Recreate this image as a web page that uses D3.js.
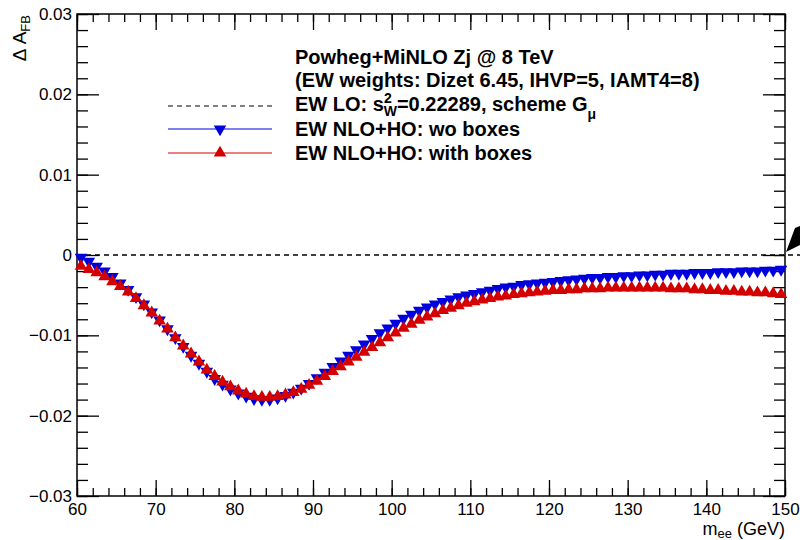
<!DOCTYPE html>
<html>
<head>
<meta charset="utf-8">
<script src="https://cdn.jsdelivr.net/npm/d3@7"></script>
<style>
  body { margin: 0; background: #fff; }
  text { font-family: "Liberation Sans", Arial, sans-serif; }
</style>
</head>
<body>
<div id="chart-area"></div>
<script>
// bin centres (1 GeV bins from 60 to 150)
const massBins = [60.5,61.5,62.5,63.5,64.5,65.5,66.5,67.5,68.5,69.5,
  70.5,71.5,72.5,73.5,74.5,75.5,76.5,77.5,78.5,79.5,
  80.5,81.5,82.5,83.5,84.5,85.5,86.5,87.5,88.5,89.5,
  90.5,91.5,92.5,93.5,94.5,95.5,96.5,97.5,98.5,99.5,
  100.5,101.5,102.5,103.5,104.5,105.5,106.5,107.5,108.5,109.5,
  110.5,111.5,112.5,113.5,114.5,115.5,116.5,117.5,118.5,119.5,
  120.5,121.5,122.5,123.5,124.5,125.5,126.5,127.5,128.5,129.5,
  130.5,131.5,132.5,133.5,134.5,135.5,136.5,137.5,138.5,139.5,
  140.5,141.5,142.5,143.5,144.5,145.5,146.5,147.5,148.5,149.5];

// EW NLO+HO: wo boxes
const woBoxes = [-0.0003,-0.0008,-0.0014,-0.0020,-0.0027,-0.0035,-0.0043,-0.0052,-0.0061,-0.0071,
  -0.0081,-0.0092,-0.0103,-0.0114,-0.0125,-0.0135,-0.0145,-0.0154,-0.0161,-0.0167,
  -0.0172,-0.0176,-0.0179,-0.0180,-0.0180,-0.0178,-0.0175,-0.0171,-0.0166,-0.0160,
  -0.0153,-0.0146,-0.0139,-0.0132,-0.0125,-0.0118,-0.0111,-0.0104,-0.0097,-0.0091,
  -0.0085,-0.0079,-0.0074,-0.0069,-0.0065,-0.0061,-0.0058,-0.0055,-0.0052,-0.0050,
  -0.0048,-0.0046,-0.0044,-0.0042,-0.0040,-0.0039,-0.0037,-0.0036,-0.0035,-0.0034,
  -0.0033,-0.0032,-0.0031,-0.0030,-0.0029,-0.0028,-0.0028,-0.0027,-0.0027,-0.0026,
  -0.0026,-0.0025,-0.0025,-0.0024,-0.0024,-0.0023,-0.0023,-0.0023,-0.0022,-0.0022,
  -0.0022,-0.0021,-0.0021,-0.0021,-0.0020,-0.0020,-0.0020,-0.0019,-0.0019,-0.0018];

// EW NLO+HO: with boxes
const withBoxes = [-0.0014,-0.0018,-0.0022,-0.0027,-0.0033,-0.0039,-0.0046,-0.0054,-0.0063,-0.0072,
  -0.0082,-0.0092,-0.0103,-0.0113,-0.0123,-0.0133,-0.0143,-0.0151,-0.0158,-0.0164,
  -0.0169,-0.0173,-0.0176,-0.0177,-0.0177,-0.0176,-0.0174,-0.0171,-0.0167,-0.0162,
  -0.0157,-0.0151,-0.0145,-0.0139,-0.0133,-0.0127,-0.0121,-0.0115,-0.0109,-0.0103,
  -0.0097,-0.0091,-0.0086,-0.0081,-0.0077,-0.0073,-0.0069,-0.0066,-0.0063,-0.0060,
  -0.0058,-0.0056,-0.0054,-0.0052,-0.0051,-0.0049,-0.0048,-0.0047,-0.0046,-0.0045,
  -0.0044,-0.0044,-0.0043,-0.0043,-0.0042,-0.0042,-0.0042,-0.0041,-0.0041,-0.0041,
  -0.0041,-0.0041,-0.0041,-0.0041,-0.0041,-0.0042,-0.0042,-0.0042,-0.0043,-0.0043,
  -0.0044,-0.0044,-0.0045,-0.0045,-0.0046,-0.0046,-0.0047,-0.0047,-0.0048,-0.0049];

// EW LO reference line
const loValue = 0;

const xTicks = [60, 70, 80, 90, 100, 110, 120, 130, 140, 150];
const yTicks = [-0.03, -0.02, -0.01, 0, 0.01, 0.02, 0.03];
const yTickLabels = ["\u22120.03", "\u22120.02", "\u22120.01", "0", "0.01", "0.02", "0.03"];

const blue = "#0000dd", red = "#d40000";

//set margins
let margin = {left: 77, top: 14, right: 15, bottom: 44};
let width = 800 - margin.left - margin.right,
    height = 540 - margin.top - margin.bottom;

let svg = d3.select("#chart-area")
  .append("svg")
  .attr("width", 800)
  .attr("height", 540);

let group = svg.append("g")
  .attr("transform", "translate(" + margin.left + ", " + margin.top + ")");

// scales
let x = d3.scaleLinear().domain([60, 150]).range([0, width]);
let y = d3.scaleLinear().domain([-0.03, 0.03]).range([height, 0]);

let xMinor = d3.range(60, 150.1, 2);
let yMinor = d3.range(-0.03, 0.0301, 0.002);

// axes with inward ticks on all four sides
function styleAxis(g) {
  g.select(".domain").remove();
  g.selectAll("line").attr("stroke", "#000").attr("stroke-width", 1.3);
}
group.append("g").attr("transform", "translate(0," + height + ")")
  .call(d3.axisBottom(x).tickValues(xMinor).tickSize(-8).tickFormat("")).call(styleAxis);
group.append("g").attr("transform", "translate(0," + height + ")")
  .call(d3.axisBottom(x).tickValues(xTicks).tickSize(-16).tickPadding(19)).call(styleAxis)
  .selectAll("text").attr("font-size", "17px").attr("fill", "#000").attr("dy", "0");
group.append("g")
  .call(d3.axisTop(x).tickValues(xMinor).tickSize(-8).tickFormat("")).call(styleAxis);
group.append("g")
  .call(d3.axisTop(x).tickValues(xTicks).tickSize(-16).tickFormat("")).call(styleAxis);
group.append("g")
  .call(d3.axisLeft(y).tickValues(yMinor).tickSize(-11).tickFormat("")).call(styleAxis);
group.append("g")
  .call(d3.axisLeft(y).tickValues(yTicks).tickSize(-22).tickPadding(5)
    .tickFormat((d, i) => yTickLabels[i])).call(styleAxis)
  .selectAll("text").attr("font-size", "17px").attr("fill", "#000");
group.append("g").attr("transform", "translate(" + width + ",0)")
  .call(d3.axisRight(y).tickValues(yMinor).tickSize(-11).tickFormat("")).call(styleAxis);
group.append("g").attr("transform", "translate(" + width + ",0)")
  .call(d3.axisRight(y).tickValues(yTicks).tickSize(-22).tickFormat("")).call(styleAxis);

// frame
group.append("rect")
  .attr("width", width).attr("height", height)
  .attr("fill", "none").attr("stroke", "#000").attr("stroke-width", 1.5);

// x label
let xl = group.append("text")
  .attr("x", width).attr("y", height + 39)
  .attr("text-anchor", "end").attr("font-size", "18px");
xl.append("tspan").text("m");
xl.append("tspan").attr("font-size", "13px").attr("dy", 3).text("ee");
xl.append("tspan").attr("dy", -3).text(" (GeV)");

// y label
let yl = svg.append("text")
  .attr("transform", "translate(26," + (margin.top + 1) + ") rotate(-90)")
  .attr("text-anchor", "end").attr("font-size", "19px");
yl.append("tspan").text("\u0394 A");
yl.append("tspan").attr("font-size", "13px").attr("dy", 4).text("FB");

// EW LO dashed line
group.append("line")
  .attr("x1", 0).attr("x2", width + 15)
  .attr("y1", y(loValue)).attr("y2", y(loValue))
  .attr("stroke", "#000").attr("stroke-width", 1.3).attr("stroke-dasharray", "5,4");

// data markers
let down = d3.symbol().type(d3.symbolTriangle).size(68);
group.selectAll(".wo").data(massBins).enter().append("path")
  .attr("d", down)
  .attr("transform", (d, i) => "translate(" + x(d) + "," + y(woBoxes[i]) + ") rotate(180)")
  .attr("fill", blue);
group.selectAll(".with").data(massBins).enter().append("path")
  .attr("d", down)
  .attr("transform", (d, i) => "translate(" + x(d) + "," + y(withBoxes[i]) + ")")
  .attr("fill", red);

// arrow piece at right edge
svg.append("path")
  .attr("d", "M786,252 L795,228 L800,226 L800,245 Z")
  .attr("fill", "#000");

// legend
let lx1 = 168, lx2 = 272, tx = 295;
let leg = svg.append("g").attr("font-weight", "bold").attr("font-size", "20px");
leg.append("text").attr("x", tx).attr("y", 64).text("Powheg+MiNLO Zj @ 8 TeV");
leg.append("text").attr("x", tx).attr("y", 87).text("(EW weights: Dizet 6.45, IHVP=5, IAMT4=8)");
let lo = leg.append("text").attr("x", tx).attr("y", 111);
lo.append("tspan").text("EW LO: s");
lo.append("tspan").attr("font-size", "14px").attr("dy", -8).text("2");
lo.append("tspan").attr("font-size", "14px").attr("dx", -8).attr("dy", 13).text("W");
lo.append("tspan").attr("dy", -5).text("=0.22289, scheme G");
lo.append("tspan").attr("font-size", "14px").attr("dy", 8).text("\u03bc");
leg.append("text").attr("x", tx).attr("y", 136).text("EW NLO+HO: wo boxes");
leg.append("text").attr("x", tx).attr("y", 160).text("EW NLO+HO: with boxes");

svg.append("line").attr("x1", lx1).attr("x2", lx2).attr("y1", 106).attr("y2", 106)
  .attr("stroke", "#000").attr("stroke-width", 1.2).attr("stroke-dasharray", "5,4");
svg.append("line").attr("x1", lx1).attr("x2", lx2).attr("y1", 129).attr("y2", 129)
  .attr("stroke", blue).attr("stroke-width", 1.2);
svg.append("line").attr("x1", lx1).attr("x2", lx2).attr("y1", 153).attr("y2", 153)
  .attr("stroke", red).attr("stroke-width", 1.2);
svg.append("path").attr("d", down)
  .attr("transform", "translate(" + (lx1 + lx2) / 2 + ",129) rotate(180)").attr("fill", blue);
svg.append("path").attr("d", down)
  .attr("transform", "translate(" + (lx1 + lx2) / 2 + ",153)").attr("fill", red);
</script>
</body>
</html>
